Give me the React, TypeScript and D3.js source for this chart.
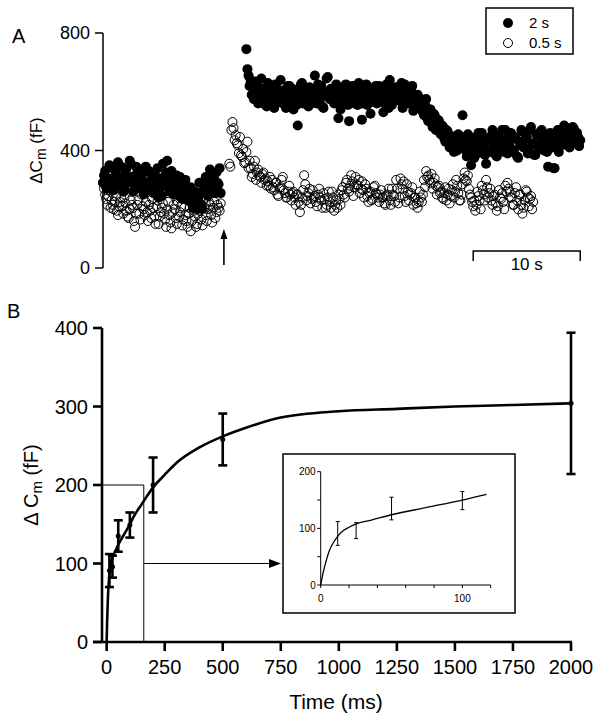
import * as d3 from "d3";

const FONT = "'Liberation Sans', Arial, Helvetica, sans-serif";

// ---- Panel A: ΔCm traces (fF), one sample every 0.1 s ----
const DT = 0.1;
const pre2sStart = 0;
const pre2s = [
  290, 315, 330, 275, 270, 305, 350, 285, 300, 340, 265, 295, 320, 280, 360, 300, 285, 345, 310, 260,
  270, 325, 340, 290, 295, 365, 355, 310, 260, 285, 315, 345, 280, 300, 335, 270, 300, 320, 250, 285,
  345, 265, 290, 330, 265, 300, 320, 255, 275, 295, 310, 340, 240, 270, 300, 245, 355, 310, 280, 325,
  365, 290, 260, 305, 330, 270, 250, 280, 290, 315, 270, 245, 310, 275, 235, 260, 285, 300, 255, 240,
  230, 265, 275, 220, 205, 250, 260, 210, 200, 235, 290, 255, 215, 200, 265, 280, 310, 270, 245, 290,
  335, 300, 270, 315, 300, 255, 325, 290, 285, 340, 255,
];
const pre05sStart = 0;
const pre05s = [
  290, 270, 250, 235, 215, 245, 265, 205, 230, 215, 200, 225, 245, 195, 180, 210, 225, 240, 210, 185,
  240, 220, 195, 175, 170, 200, 230, 215, 205, 160, 140, 185, 215, 230, 185, 165, 250, 210, 200, 180,
  225, 190, 160, 215, 195, 170, 235, 205, 175, 150, 210, 230, 150, 175, 190, 205, 220, 185, 165, 140,
  200, 225, 180, 155, 135, 190, 215, 200, 170, 150, 225, 175, 190, 210, 145, 165, 205, 180, 160, 140,
  185, 205, 125, 160, 210, 195, 175, 140, 150, 185, 195, 215, 165, 145, 230, 205, 180, 160, 200, 225,
  215, 180, 155, 205, 225, 170, 190, 215, 205, 195, 220,
];
const post2sStart = 13.4;
const post2s = [
  745, 677, 655, 620, 640, 590, 615, 575, 600, 635, 625, 560, 580, 610, 645, 610, 560, 590, 595, 550,
  630, 575, 570, 615, 600, 555, 545, 625, 615, 580, 585, 600, 640, 565, 560, 605, 600, 545, 575, 620,
  620, 565, 590, 610, 540, 580, 605, 555, 485, 595, 580, 625, 630, 560, 565, 600, 600, 580, 550, 615,
  610, 560, 580, 600, 655, 595, 560, 625, 600, 575, 620, 550, 545, 600, 590, 645, 650, 585, 575, 610,
  600, 570, 560, 595, 625, 580, 510, 605, 540, 565, 610, 590, 590, 625, 570, 555, 500, 580, 600, 620,
  580, 560, 615, 595, 555, 630, 600, 575, 505, 560, 590, 610, 625, 555, 570, 595, 525, 580, 610, 565,
  595, 620, 560, 585, 620, 570, 585, 600, 530, 560, 605, 625, 575, 545, 640, 600, 555, 575, 590, 615,
  610, 580, 570, 595, 600, 630, 545, 565, 625, 590, 580, 605, 560, 585, 600, 620, 535, 570, 575, 555,
  590, 560, 545, 575, 560, 530, 520, 555, 575, 510, 500, 540, 540, 495, 480, 525, 520, 470, 470, 505,
  500, 460, 455, 485, 480, 440, 430, 470, 465, 425, 410, 450, 445, 415, 395, 435, 430, 400, 455, 420,
  415, 445, 520, 430, 440, 400, 380, 455, 425, 390, 350, 420, 405, 375, 445, 410, 390, 460, 430, 395,
  460, 425, 410, 385, 355, 440, 435, 400, 395, 450, 470, 415, 420, 385, 380, 450, 445, 410, 405, 470,
  430, 395, 470, 440, 390, 425, 415, 460, 455, 395, 400, 445, 440, 380, 375, 430, 420, 470, 465, 410,
  410, 440, 445, 390, 395, 470, 480, 420, 425, 385, 385, 455, 450, 405, 415, 465, 470, 430, 400, 445,
  430, 395, 345, 420, 460, 440, 410, 340, 340, 415, 440, 470, 395, 425, 470, 445, 420, 485, 480, 435,
  455, 420, 410, 465, 440, 480, 475, 430, 425, 460, 445, 415, 435,
];
const post05sStart = 11.8;
const post05s = [
  355, 345, 470, 497, 476, 435, 452, 425, 418, 391, 446, 384, 378, 405, 357, 360, 395, 430, 340, 365,
  340, 310, 320, 345, 365, 300, 325, 335, 315, 310, 290, 320, 325, 300, 305, 280, 295, 280, 310, 270,
  300, 275, 265, 290, 290, 250, 245, 270, 275, 300, 310, 265, 255, 240, 240, 260, 280, 250, 230, 255,
  260, 240, 215, 250, 250, 225, 190, 215, 240, 265, 316, 285, 230, 245, 255, 270, 220, 235, 265, 240,
  245, 225, 210, 250, 270, 240, 230, 205, 255, 235, 205, 215, 240, 260, 225, 205, 260, 240, 195, 215,
  230, 205, 250, 235, 215, 265, 275, 250, 240, 290, 300, 270, 260, 280, 316, 295, 245, 275, 310, 285,
  280, 300, 255, 270, 295, 265, 240, 285, 270, 245, 225, 255, 260, 230, 235, 275, 280, 255, 250, 240,
  225, 250, 265, 240, 240, 220, 215, 245, 250, 270, 230, 215, 270, 250, 245, 225, 300, 270, 220, 240,
  305, 285, 270, 295, 245, 225, 285, 260, 230, 250, 255, 275, 215, 240, 240, 220, 205, 225, 260, 240,
  225, 250, 300, 275, 330, 310, 315, 300, 290, 320, 270, 290, 305, 280, 250, 275, 280, 255, 260, 240,
  235, 255, 275, 230, 250, 270, 220, 245, 265, 285, 240, 260, 300, 280, 255, 230, 230, 250, 285, 305,
  325, 300, 295, 315, 270, 250, 240, 225, 210, 230, 195, 215, 260, 245, 230, 200, 280, 265, 250, 230,
  300, 275, 240, 255, 270, 230, 215, 245, 250, 220, 195, 210, 265, 240, 235, 255, 225, 200, 280, 260,
  290, 270, 260, 240, 240, 215, 215, 255, 275, 230, 200, 250, 250, 215, 185, 205, 230, 265, 260, 240,
  210, 235, 245, 200, 225,
];
const stimTime = 11.3; // s, arrow
const scaleBarS = [34.6, 44.6];
const ticksA = [0, 400, 800];
const legendA = ["2 s", "0.5 s"];

// ---- Panel B: ΔCm vs pulse duration ----
const pulseMs = [12, 25, 50, 100, 200, 500, 2000];
const meanFF = [91, 96, 135, 149, 200, 258, 304];
const semFF = [21, 14, 20, 16, 35, 33, 90];
const fitT = [0, 2, 4, 6, 9, 12, 16, 20, 25, 35, 50, 75, 100, 117, 150, 200, 250, 300, 400, 500, 600, 750, 1000, 1250, 1500, 1750, 2000];
const fitV = [0, 25, 44, 60, 75, 86, 96, 102, 108, 114, 124, 137, 150, 160, 175, 197, 213, 228, 248, 262, 273, 286, 294, 297, 300, 302, 304];
const ticksBx = [0, 250, 500, 750, 1000, 1250, 1500, 1750, 2000];
const ticksBy = [0, 100, 200, 300, 400];
const zoomBox = { ms: 160, fF: 200 };

// inset (first 120 ms)
const insetXTicks = [0, 20, 40, 60, 80, 100, 120];
const insetXLabels = [0, 100];
const insetYTicks = [0, 50, 100, 150, 200];
const insetYLabels = [0, 100, 200];

function toPoints(start: number, values: number[]) {
  return values.map((v, i) => ({ t: start + i * DT, v }));
}

export default function App() {
  // panel A scales
  const xA = d3.scaleLinear().domain([0, 45]).range([103, 584.5]);
  const yA = d3.scaleLinear().domain([0, 800]).range([268, 33]);

  const filled = [...toPoints(pre2sStart, pre2s), ...toPoints(post2sStart, post2s)];
  const open = [...toPoints(pre05sStart, pre05s), ...toPoints(post05sStart, post05s)];

  // panel B scales
  const xB = d3.scaleLinear().domain([-20, 2000]).range([102, 571]);
  const yB = d3.scaleLinear().domain([0, 400]).range([642, 328]);
  const fit = fitT.map((t, i) => ({ t, v: fitV[i] }));
  const lineB = d3
    .line<{ t: number; v: number }>()
    .x((d) => xB(d.t))
    .y((d) => yB(d.v))
    .curve(d3.curveMonotoneX);

  // inset scales
  const xI = d3.scaleLinear().domain([0, 120]).range([320.7, 490.7]);
  const yI = d3.scaleLinear().domain([0, 200]).range([585, 471.7]);
  const lineI = d3
    .line<{ t: number; v: number }>()
    .x((d) => xI(d.t))
    .y((d) => yI(d.v))
    .curve(d3.curveMonotoneX);

  const zx = xB(zoomBox.ms);
  const arrowY = yB(100);
  const arrowTip = 281;

  return (
    <svg
      width={602}
      height={723}
      style={{ position: "absolute", left: 0, top: 0, background: "#fff" }}
      fontFamily={FONT}
    >
      <rect width={602} height={723} fill="#fff" />

      {/* ---------- Panel A ---------- */}
      <text x={12} y={43} fontSize={20}>A</text>
      <line x1={103} x2={103} y1={yA(800)} y2={yA(0)} stroke="#000" strokeWidth={1.5} />
      {ticksA.map((t) => (
        <g key={t}>
          <line x1={95} x2={103} y1={yA(t)} y2={yA(t)} stroke="#000" strokeWidth={1.5} />
          <text x={90} y={yA(t) + 6} fontSize={18} textAnchor="end">{t}</text>
        </g>
      ))}
      <text transform={`translate(42,${yA(400)}) rotate(-90)`} fontSize={17} textAnchor="middle">
        ΔC<tspan fontSize={14} dy={4}>m</tspan>
        <tspan dy={-4}> (fF)</tspan>
      </text>

      {open.map((d, i) => (
        <circle key={"o" + i} cx={xA(d.t)} cy={yA(d.v)} r={4.5} fill="none" stroke="#000" strokeWidth={1} />
      ))}
      {filled.map((d, i) => (
        <circle key={"f" + i} cx={xA(d.t)} cy={yA(d.v)} r={5} fill="#000" />
      ))}

      {/* stimulus arrow */}
      <line x1={xA(stimTime)} x2={xA(stimTime)} y1={265} y2={236} stroke="#000" strokeWidth={1.6} />
      <path d={`M${xA(stimTime)},229 l-3.5,10 l7,0 z`} fill="#000" />

      {/* legend */}
      <rect x={486} y={8} width={87} height={46} fill="#fff" stroke="#000" strokeWidth={1.5} />
      <circle cx={508} cy={23} r={5} fill="#000" />
      <text x={529} y={28} fontSize={15}>{legendA[0]}</text>
      <circle cx={508} cy={43} r={4.5} fill="none" stroke="#000" strokeWidth={1} />
      <text x={529} y={48} fontSize={15}>{legendA[1]}</text>

      {/* scale bar */}
      <path
        d={`M${xA(scaleBarS[0])},261 V251 H${xA(scaleBarS[1])} V261`}
        fill="none"
        stroke="#000"
        strokeWidth={1.5}
      />
      <text x={(xA(scaleBarS[0]) + xA(scaleBarS[1])) / 2} y={270} fontSize={17} textAnchor="middle">
        10 s
      </text>

      {/* ---------- Panel B ---------- */}
      <text x={7} y={318} fontSize={20}>B</text>

      {/* zoom box + arrow */}
      <path
        d={`M${xB(-20)},${yB(zoomBox.fF)} H${zx} V${yB(0)}`}
        fill="none"
        stroke="#000"
        strokeWidth={1}
      />
      <line x1={zx} x2={arrowTip - 9} y1={arrowY} y2={arrowY} stroke="#000" strokeWidth={1} />
      <path d={`M${arrowTip},${arrowY} l-12,-4.5 l0,9 z`} fill="#000" />

      {/* axes */}
      <line x1={102} x2={102} y1={yB(400)} y2={yB(0)} stroke="#000" strokeWidth={2.6} />
      <line x1={93} x2={572} y1={yB(0)} y2={yB(0)} stroke="#000" strokeWidth={2.6} />
      {ticksBy.map((t) => (
        <g key={t}>
          <line x1={93} x2={102} y1={yB(t)} y2={yB(t)} stroke="#000" strokeWidth={2.6} />
          <text x={88} y={yB(t) + 7} fontSize={20} textAnchor="end">{t}</text>
        </g>
      ))}
      {ticksBx.map((t) => (
        <g key={t}>
          <line x1={xB(t)} x2={xB(t)} y1={yB(0)} y2={yB(0) + 9} stroke="#000" strokeWidth={2.6} />
          <text x={xB(t)} y={674} fontSize={20} textAnchor="middle">{t}</text>
        </g>
      ))}
      <text x={336} y={709} fontSize={21} textAnchor="middle">Time (ms)</text>
      <text transform={`translate(38,${yB(200)}) rotate(-90)`} fontSize={20} textAnchor="middle">
        Δ C<tspan fontSize={15} dy={4}>m</tspan>
        <tspan dy={-4}> (fF)</tspan>
      </text>

      {/* fit + data */}
      <path d={lineB(fit) ?? ""} fill="none" stroke="#000" strokeWidth={2.6} />
      {pulseMs.map((t, i) => {
        const x = xB(t);
        return (
          <g key={t}>
            <line x1={x} x2={x} y1={yB(meanFF[i] - semFF[i])} y2={yB(meanFF[i] + semFF[i])} stroke="#000" strokeWidth={2.6} />
            <line x1={x - 4.5} x2={x + 4.5} y1={yB(meanFF[i] - semFF[i])} y2={yB(meanFF[i] - semFF[i])} stroke="#000" strokeWidth={2.6} />
            <line x1={x - 4.5} x2={x + 4.5} y1={yB(meanFF[i] + semFF[i])} y2={yB(meanFF[i] + semFF[i])} stroke="#000" strokeWidth={2.6} />
            <circle cx={x} cy={yB(meanFF[i])} r={2.5} fill="#000" />
          </g>
        );
      })}

      {/* inset */}
      <rect x={283} y={454} width={232} height={159} fill="#fff" stroke="#000" strokeWidth={1.5} />
      <line x1={xI(0)} x2={xI(0)} y1={yI(200)} y2={yI(0)} stroke="#000" strokeWidth={1} />
      <line x1={xI(0)} x2={xI(120)} y1={yI(0)} y2={yI(0)} stroke="#000" strokeWidth={1} />
      {insetYTicks.map((t) => (
        <line key={t} x1={xI(0) - 3.5} x2={xI(0)} y1={yI(t)} y2={yI(t)} stroke="#000" strokeWidth={1} />
      ))}
      {insetYLabels.map((t) => (
        <text key={t} x={xI(0) - 5} y={yI(t) + 3.5} fontSize={10} textAnchor="end">{t}</text>
      ))}
      {insetXTicks.map((t) => (
        <line key={t} x1={xI(t)} x2={xI(t)} y1={yI(0)} y2={yI(0) + 3} stroke="#000" strokeWidth={1} />
      ))}
      {insetXLabels.map((t) => (
        <text key={t} x={xI(t)} y={602} fontSize={10} textAnchor="middle">{t}</text>
      ))}
      <path d={lineI(fit.filter((d) => d.t <= 117)) ?? ""} fill="none" stroke="#000" strokeWidth={1.3} />
      {pulseMs
        .map((t, i) => ({ t, m: meanFF[i], s: semFF[i] }))
        .filter((d) => d.t <= 120)
        .map((d) => {
          const x = xI(d.t);
          return (
            <g key={d.t}>
              <line x1={x} x2={x} y1={yI(d.m - d.s)} y2={yI(d.m + d.s)} stroke="#000" strokeWidth={1} />
              <line x1={x - 2} x2={x + 2} y1={yI(d.m - d.s)} y2={yI(d.m - d.s)} stroke="#000" strokeWidth={1} />
              <line x1={x - 2} x2={x + 2} y1={yI(d.m + d.s)} y2={yI(d.m + d.s)} stroke="#000" strokeWidth={1} />
            </g>
          );
        })}
    </svg>
  );
}
